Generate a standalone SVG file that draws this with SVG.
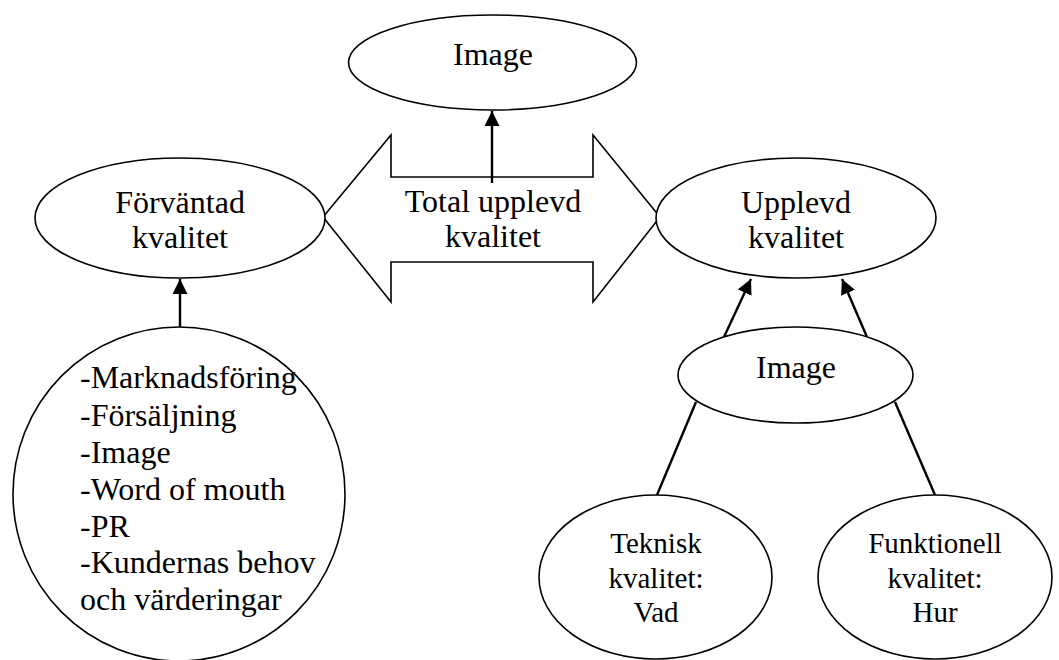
<svg xmlns="http://www.w3.org/2000/svg" width="1059" height="660" viewBox="0 0 1059 660">
<style>
.n{fill:#fff;stroke:#000;stroke-width:1.6}
.t{font-family:"Liberation Serif","Times New Roman",serif;font-size:32px;fill:#000;text-anchor:middle}
.s{font-size:29px}
.l{text-anchor:start}
.c{stroke:#000;stroke-width:2.4;fill:none}
</style>
<defs>
<marker id="ah" markerUnits="userSpaceOnUse" markerWidth="17" markerHeight="16" refX="15" refY="7.5" orient="auto">
<path d="M0,0 L15,7.5 L0,15 Z" fill="#000"/>
</marker>
</defs>
<rect width="1059" height="660" fill="#fff"/>
<g id="total">
<polygon class="n" points="323,217 391,135 391,177 593,177 593,135 660,217 593,302 593,262 391,262 391,302"/>
<text class="t" x="493" y="212">Total upplevd</text>
<text class="t" x="493" y="247">kvalitet</text>
</g>
<g id="connectors">
<line class="c" x1="492" y1="183" x2="492" y2="111" marker-end="url(#ah)"/>
<line class="c" x1="180" y1="327" x2="180" y2="279" marker-end="url(#ah)"/>
<line class="c" x1="724" y1="337" x2="751" y2="279" marker-end="url(#ah)"/>
<line class="c" x1="867" y1="337" x2="842" y2="279" marker-end="url(#ah)"/>
<line class="c" x1="696" y1="402" x2="657" y2="495"/>
<line class="c" x1="895" y1="402" x2="935" y2="495"/>
</g>
<g id="image-top">
<ellipse class="n" cx="492.5" cy="62.5" rx="144" ry="47.5"/>
<text class="t" x="493" y="65">Image</text>
</g>
<g id="forvantad">
<ellipse class="n" cx="180" cy="218" rx="145" ry="60"/>
<text class="t" x="180" y="213">Förväntad</text>
<text class="t" x="180" y="248">kvalitet</text>
</g>
<g id="faktorer">
<ellipse class="n" cx="179" cy="494" rx="166" ry="167"/>
<text class="t l" x="80" y="388">-Marknadsföring</text>
<text class="t l" x="80" y="426">-Försäljning</text>
<text class="t l" x="80" y="463">-Image</text>
<text class="t l" x="80" y="500">-Word of mouth</text>
<text class="t l" x="80" y="537">-PR</text>
<text class="t l" x="80" y="573">-Kundernas behov</text>
<text class="t l" x="80" y="610">och värderingar</text>
</g>
<g id="upplevd">
<ellipse class="n" cx="796" cy="218" rx="140" ry="60"/>
<text class="t" x="796" y="213">Upplevd</text>
<text class="t" x="796" y="248">kvalitet</text>
</g>
<g id="image-mid">
<ellipse class="n" cx="795.5" cy="375" rx="117.5" ry="48"/>
<text class="t" x="796" y="378">Image</text>
</g>
<g id="teknisk">
<ellipse class="n" cx="655.5" cy="577" rx="116.5" ry="82"/>
<text class="t s" x="656" y="553">Teknisk</text>
<text class="t s" x="656" y="588">kvalitet:</text>
<text class="t s" x="656" y="622">Vad</text>
</g>
<g id="funktionell">
<ellipse class="n" cx="935" cy="577" rx="117" ry="82"/>
<text class="t s" x="935" y="553">Funktionell</text>
<text class="t s" x="935" y="588">kvalitet:</text>
<text class="t s" x="935" y="622">Hur</text>
</g>
</svg>
